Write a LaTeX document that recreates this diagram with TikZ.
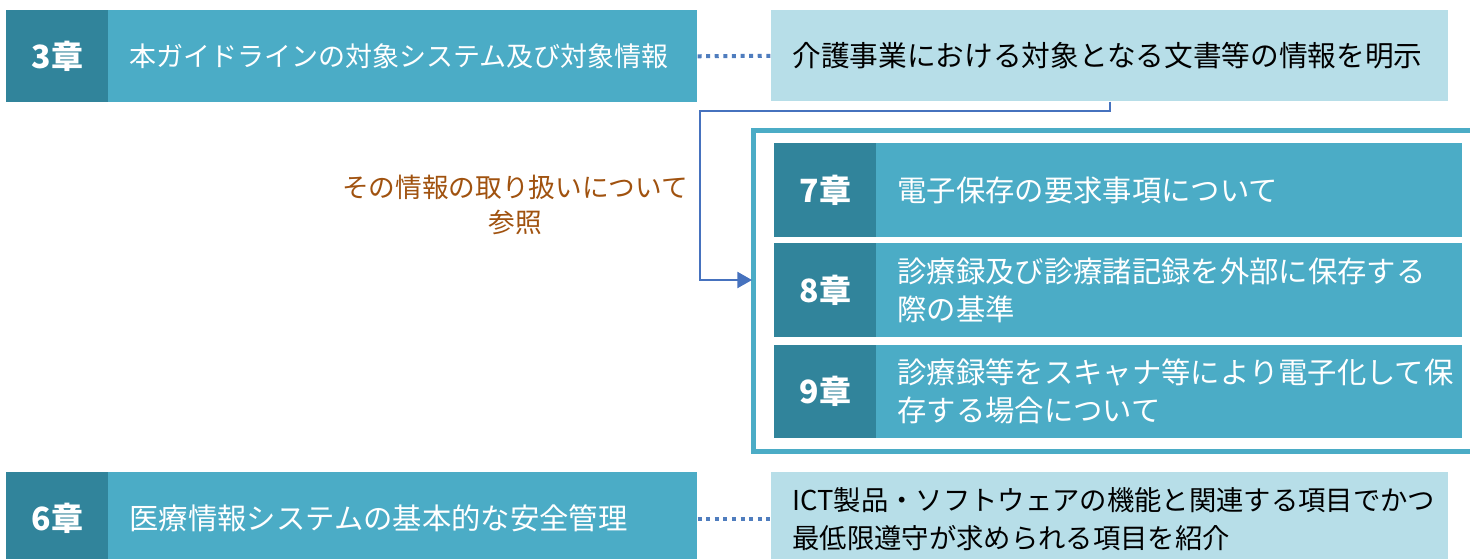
\documentclass[tikz,border=0pt]{standalone}
\usepackage{fontspec}
\setmainfont{Noto Sans CJK JP}
\usetikzlibrary{arrows.meta}
\definecolor{chapdark}{RGB}{49,132,155}
\definecolor{chaplight}{RGB}{75,172,198}
\definecolor{palebox}{RGB}{183,222,232}
\definecolor{connblue}{RGB}{70,114,190}
\definecolor{dotblue}{RGB}{79,125,190}
\definecolor{notebrown}{RGB}{160,82,15}
\tikzset{
  chapbox/.style={rectangle, fill=chapdark, draw=none, anchor=north west, inner sep=0pt,
    minimum width=76.5pt, text=white, font=\fontsize{24}{28}\selectfont\bfseries},
  titlebox/.style={rectangle, fill=chaplight, draw=none, anchor=north west, inner xsep=16pt, inner ysep=0pt,
    text=white, align=left},
  notebox/.style={rectangle, fill=palebox, draw=none, anchor=north west, inner xsep=16pt, inner ysep=0pt,
    text=black, align=left},
  dotline/.style={draw=dotblue, line width=3pt, dash pattern=on 3pt off 3.45pt},
  conn/.style={draw=connblue, line width=1.8pt, -{Triangle[length=11pt,width=12pt]}},
  framebox/.style={draw=chaplight, line width=3.75pt, fill=none},
}
\begin{document}
\begin{tikzpicture}[x=0.75pt,y=-0.75pt]
\useasboundingbox (0,0) rectangle (1470,558);
% row 3
\node[chapbox, minimum height=69pt] (c3) at (6,10) {3章};
\node[titlebox, minimum width=441.75pt, minimum height=69pt, text width=409.75pt,
  font=\fontsize{20.25}{26}\selectfont] (t3) at (108,10) {本ガイドラインの対象システム及び対象情報};
\node[notebox, minimum width=507.75pt, minimum height=68.25pt, text width=475.75pt,
  font=\fontsize{21.5}{28}\selectfont] (n3) at (771,10) {介護事業における対象となる文書等の情報を明示};
\draw[dotline] (t3.east) -- (n3.west);
% frame (runs to the right edge, so its right side is not seen)
\coordinate (frNE) at (1470,130.5);
\coordinate (frNW) at (753.5,130.5);
\coordinate (frSW) at (753.5,451.5);
\coordinate (frSE) at (1470,451.5);
\draw[framebox] (frNE) -- (frNW) -- (frSW) -- (frSE);
% rows 7,8,9
\node[chapbox, minimum height=70.5pt] (c7) at (774,143) {7章};
\node[titlebox, minimum width=439.5pt, minimum height=70.5pt, text width=407.5pt,
  font=\fontsize{22}{28.5}\selectfont] (t7) at (876,143) {電子保存の要求事項について};
\node[chapbox, minimum height=70.5pt] (c8) at (774,243) {8章};
\node[titlebox, minimum width=439.5pt, minimum height=70.5pt, text width=407.5pt,
  font=\fontsize{22}{28.5}\selectfont] (t8) at (876,243) {診療録及び診療諸記録を外部に保存する\\際の基準};
\node[chapbox, minimum height=69.75pt] (c9) at (774,345) {9章};
\node[titlebox, minimum width=439.5pt, minimum height=69.75pt, text width=407.5pt,
  font=\fontsize{22}{28.5}\selectfont] (t9) at (876,345) {診療録等をスキャナ等により電子化して保\\存する場合について};
% connector
\coordinate (bend) at (700,111);
\coordinate (tip) at (752,280);
\draw[conn] (n3.south) |- (bend) |- (tip);
\node[text=notebrown, align=center, font=\fontsize{20}{26.25}\selectfont] (lbl) at (515,204.5) {その情報の取り扱いについて\\参照};
% row 6
\node[chapbox, minimum height=69.75pt] (c6) at (6,472) {6章};
\node[titlebox, minimum width=441.75pt, minimum height=69.75pt, text width=409.75pt,
  font=\fontsize{22}{28}\selectfont] (t6) at (108,472) {医療情報システムの基本的な安全管理};
\node[notebox, minimum width=507.75pt, minimum height=69.75pt, text width=475.75pt,
  font=\fontsize{20.5}{28.5}\selectfont] (n6) at (771,472) {ICT製品・ソフトウェアの機能と関連する項目でかつ\\最低限遵守が求められる項目を紹介};
\draw[dotline] (t6.east) -- (n6.west);
\end{tikzpicture}
\end{document}
